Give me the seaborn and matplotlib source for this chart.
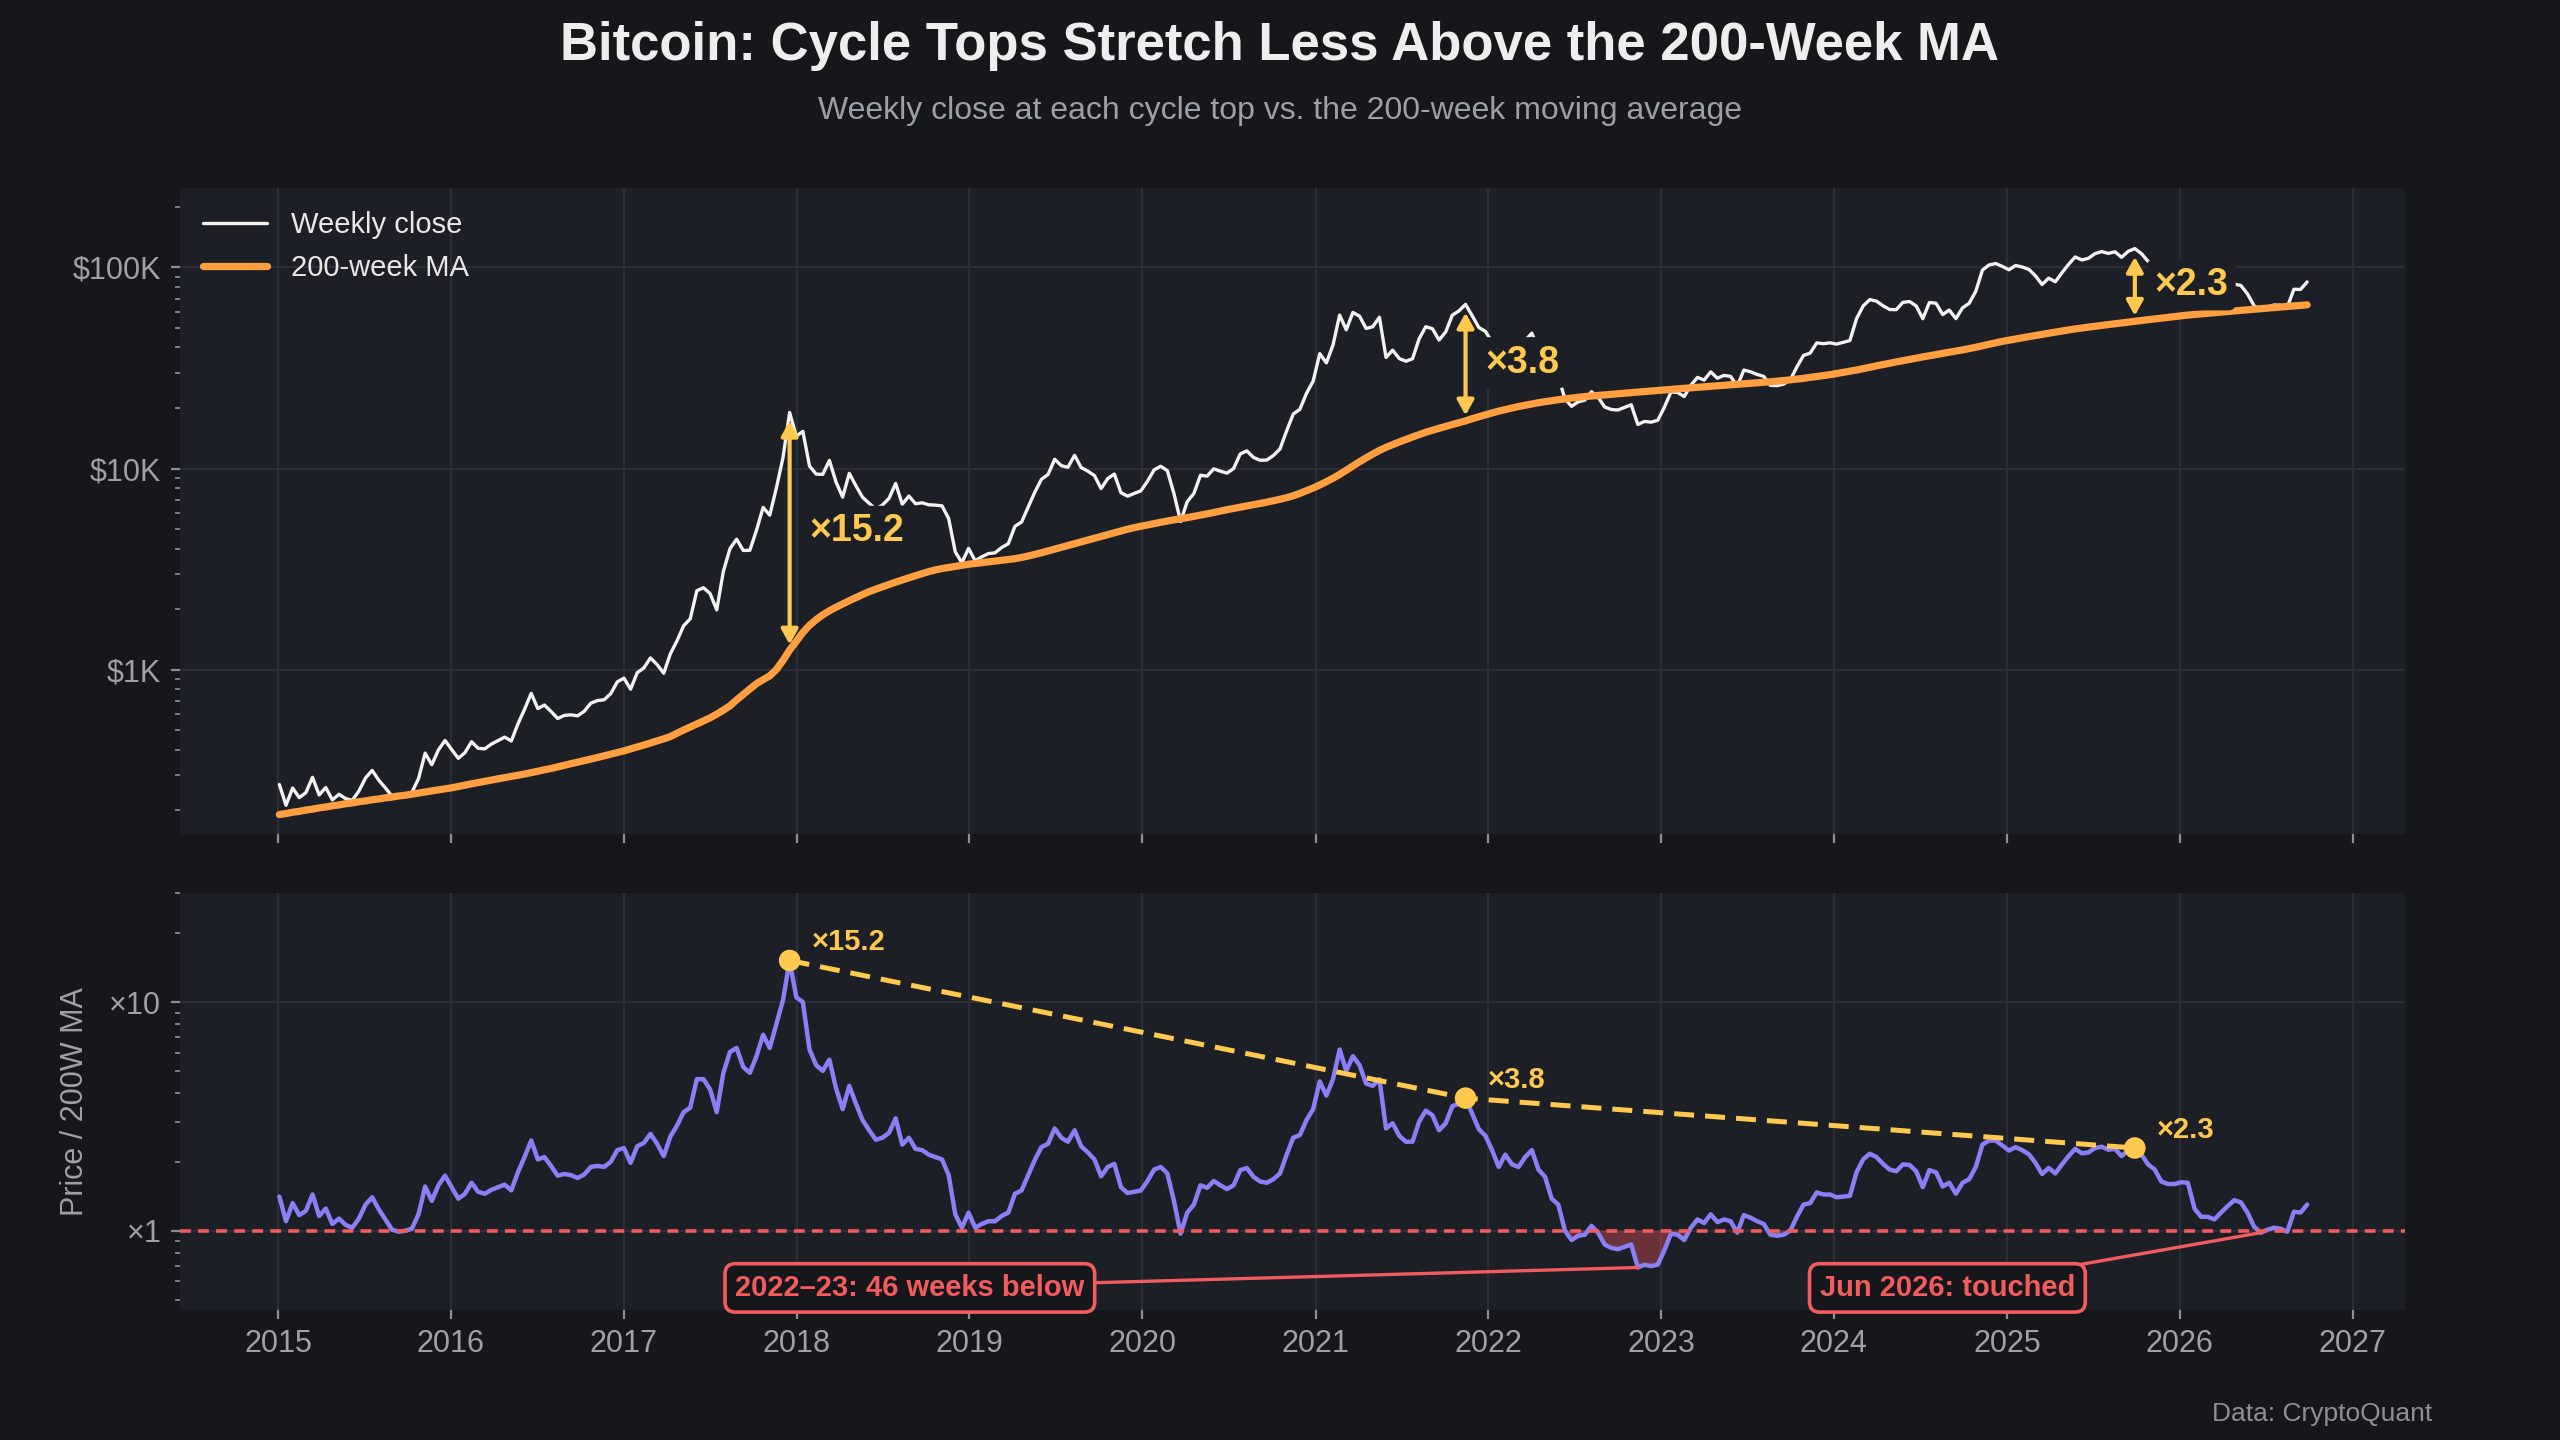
import pandas as pd
import matplotlib
matplotlib.use("Agg")
import matplotlib.pyplot as plt
import matplotlib.dates as mdates
from matplotlib.ticker import LogLocator, FuncFormatter, NullFormatter
import seaborn as sns

FIG_BG = "#16171b"
AX_BG = "#1c1f26"
GRID = "#2b2e36"
WHITE = "#f2f2f2"
ORANGE = "#ff9f40"
YELLOW = "#ffc94f"
PURPLE = "#8a7ff5"
RED = "#f25c5c"
MUTED = "#9da1a8"

# biweekly samples starting 2015-01-04, one row of 26 per year
START = "2015-01-04"
ratio = [
    1.41, 1.10, 1.32, 1.17, 1.22, 1.44, 1.16, 1.25, 1.07, 1.13, 1.06, 1.03, 1.13, 1.30, 1.40, 1.24, 1.12, 1.01, 0.99, 1.00, 1.02, 1.18, 1.56, 1.35, 1.58, 1.74,
    1.55, 1.38, 1.45, 1.62, 1.48, 1.45, 1.51, 1.55, 1.59, 1.50, 1.80, 2.10, 2.48, 2.05, 2.10, 1.92, 1.74, 1.77, 1.75, 1.70, 1.76, 1.90, 1.92, 1.90, 2.00, 2.25,
    2.30, 1.98, 2.34, 2.42, 2.65, 2.40, 2.12, 2.58, 2.88, 3.30, 3.45, 4.60, 4.60, 4.15, 3.30, 4.90, 6.05, 6.30, 5.20, 4.90, 5.80, 7.20, 6.30, 8.00, 10.2, 15.2,
    10.5, 10.0, 6.20, 5.30, 5.00, 5.60, 4.20, 3.40, 4.30, 3.60, 3.05, 2.75, 2.50, 2.55, 2.68, 3.10, 2.38, 2.55, 2.28, 2.25, 2.15, 2.10, 2.05, 1.75, 1.18, 1.03,
    1.20, 1.03, 1.07, 1.10, 1.10, 1.16, 1.20, 1.45, 1.50, 1.75, 2.04, 2.32, 2.40, 2.80, 2.55, 2.45, 2.75, 2.34, 2.20, 2.05, 1.73, 1.90, 1.96, 1.55, 1.46, 1.48,
    1.50, 1.65, 1.85, 1.90, 1.78, 1.35, 0.97, 1.20, 1.30, 1.58, 1.54, 1.65, 1.58, 1.52, 1.58, 1.84, 1.88, 1.72, 1.64, 1.62, 1.68, 1.78, 2.15, 2.55, 2.62, 3.05,
    3.40, 4.50, 3.90, 4.60, 6.20, 5.00, 5.80, 5.30, 4.40, 4.30, 4.60, 2.80, 2.95, 2.60, 2.45, 2.45, 3.00, 3.35, 3.20, 2.75, 2.95, 3.50, 3.60, 3.80, 3.25, 2.78,
    2.60, 2.25, 1.90, 2.15, 1.95, 1.90, 2.10, 2.25, 1.85, 1.72, 1.38, 1.30, 1.00, 0.91, 0.95, 0.96, 1.05, 0.98, 0.87, 0.84, 0.83, 0.85, 0.87, 0.69, 0.71, 0.70,
    0.71, 0.82, 0.97, 0.96, 0.91, 1.03, 1.12, 1.08, 1.18, 1.09, 1.12, 1.10, 0.98, 1.17, 1.14, 1.10, 1.07, 0.96, 0.95, 0.96, 1.00, 1.15, 1.30, 1.32, 1.47, 1.44,
    1.44, 1.40, 1.41, 1.42, 1.80, 2.05, 2.17, 2.10, 1.96, 1.85, 1.82, 1.95, 1.94, 1.82, 1.55, 1.84, 1.80, 1.56, 1.62, 1.45, 1.62, 1.68, 1.90, 2.38, 2.48, 2.48,
    2.36, 2.24, 2.32, 2.25, 2.16, 1.98, 1.77, 1.88, 1.78, 1.95, 2.12, 2.28, 2.18, 2.20, 2.30, 2.33, 2.26, 2.28, 2.12, 2.25, 2.30, 2.15, 1.95, 1.85, 1.64, 1.60,
    1.60, 1.63, 1.62, 1.25, 1.15, 1.15, 1.12, 1.20, 1.28, 1.36, 1.33, 1.20, 1.04, 0.98, 1.01, 1.03, 1.02, 0.99, 1.21, 1.20, 1.30,
]
ma_200w = [
    190, 192, 195, 197, 200, 202, 205, 207, 210, 212, 215, 217, 220, 222, 225, 227, 230, 232, 235, 237, 240, 243, 246, 249, 252, 255,
    258, 262, 266, 270, 274, 278, 282, 286, 290, 294, 298, 302, 307, 312, 317, 322, 328, 334, 340, 346, 352, 358, 365, 372, 379, 386,
    394, 403, 412, 421, 431, 441, 452, 464, 482, 500, 518, 536, 555, 575, 600, 628, 660, 706, 752, 800, 850, 890, 930, 1000, 1110, 1250,
    1380, 1530, 1660, 1770, 1870, 1960, 2040, 2120, 2200, 2280, 2360, 2440, 2510, 2580, 2650, 2720, 2790, 2860, 2930, 3000, 3070, 3130, 3180, 3220, 3260, 3300,
    3340, 3370, 3400, 3430, 3460, 3490, 3520, 3560, 3610, 3670, 3740, 3810, 3890, 3970, 4050, 4140, 4230, 4320, 4410, 4500, 4590, 4690, 4790, 4890, 4990, 5080,
    5160, 5240, 5320, 5400, 5480, 5550, 5620, 5700, 5780, 5860, 5950, 6040, 6140, 6240, 6330, 6420, 6510, 6600, 6700, 6800, 6910, 7030, 7160, 7320, 7520, 7760,
    8000, 8280, 8600, 8950, 9350, 9800, 10300, 10800, 11300, 11800, 12300, 12750, 13150, 13550, 13950, 14350, 14750, 15150, 15500, 15850, 16200, 16550, 16900, 17250, 17700, 18100,
    18500, 18900, 19300, 19650, 20000, 20350, 20650, 20950, 21250, 21500, 21750, 22000, 22200, 22400, 22600, 22800, 22950, 23100, 23250, 23400, 23550, 23700, 23850, 24000, 24150, 24300,
    24450, 24600, 24750, 24900, 25050, 25200, 25350, 25500, 25650, 25800, 25950, 26100, 26250, 26400, 26550, 26700, 26850, 27000, 27200, 27400, 27600, 27850, 28100, 28400, 28700, 29000,
    29300, 29700, 30100, 30500, 30900, 31400, 31900, 32400, 32900, 33400, 33900, 34400, 34900, 35400, 35900, 36400, 36900, 37400, 37900, 38400, 38900, 39500, 40100, 40800, 41500, 42200,
    42900, 43500, 44100, 44700, 45300, 45900, 46500, 47100, 47700, 48300, 48900, 49500, 50000, 50500, 51000, 51500, 52000, 52500, 53000, 53500, 54000, 54500, 55000, 55500, 56000, 56500,
    57000, 57500, 58000, 58400, 58800, 59200, 59600, 60000, 60400, 60800, 61200, 61600, 62000, 62400, 62800, 63200, 63600, 64000, 64400, 64800, 65200,
]
cycle_tops = ["2017-12-17", "2021-11-14", "2025-09-28"]
below_note = ("2022–23: 46 weeks below", "2022-06-01", "2023-06-01", "2018-08-28")
touch_note = ("Jun 2026: touched", "2026-01-01", "2026-12-31", "2024-08-28")

TITLE = "Bitcoin: Cycle Tops Stretch Less Above the 200-Week MA"
SUBTITLE = "Weekly close at each cycle top vs. the 200-week moving average"
SOURCE = "Data: CryptoQuant"


def build_frame():
    df = pd.DataFrame({
        "date": pd.date_range(START, periods=len(ratio), freq="14D"),
        "ratio": ratio,
        "ma": ma_200w,
    })
    df["close"] = df["ratio"] * df["ma"]
    return df


def usd_fmt(v, pos):
    return f"${v / 1000:.0f}K" if v >= 1000 else f"${v:.0f}"


def mult_fmt(v, pos):
    return f"×{v:g}"


def style_axis(ax):
    ax.set_facecolor(AX_BG)
    for s in ax.spines.values():
        s.set_visible(False)
    ax.grid(True, which="major", color=GRID, lw=0.8)
    ax.grid(False, which="minor")
    ax.tick_params(axis="both", which="major", colors="#8a8f98", labelcolor=MUTED,
                   labelsize=11, length=3.2, width=0.8)
    ax.tick_params(axis="y", which="minor", colors="#7a7e86", length=1.9, width=0.7)
    ax.set_xlabel("")
    ax.set_ylabel("")


def main():
    df = build_frame()
    tops = df[df["date"].isin(pd.to_datetime(cycle_tops))].reset_index(drop=True)

    sns.set_theme(style="darkgrid", rc={
        "figure.facecolor": FIG_BG,
        "axes.facecolor": AX_BG,
        "grid.color": GRID,
        "text.color": WHITE,
        "xtick.bottom": True,
        "ytick.left": True,
    })
    plt.rcParams["font.family"] = ["Liberation Sans", "DejaVu Sans"]

    fig, (ax1, ax2) = plt.subplots(2, 1, figsize=(12.8, 7.2), dpi=200, sharex=True,
                                   gridspec_kw={"height_ratios": [0.4486, 0.2896], "hspace": 0.111})
    fig.subplots_adjust(left=0.0703, right=0.9395, top=0.8694, bottom=0.0903)

    # top: price and 200W MA
    sns.lineplot(data=df, x="date", y="close", ax=ax1, color=WHITE, lw=1.2, label="Weekly close")
    sns.lineplot(data=df, x="date", y="ma", ax=ax1, color=ORANGE, lw=2.6, label="200-week MA")
    ax1.set_yscale("log")
    ax1.set_ylim(min(df["ma"].min(), df["close"].min()) * 0.8, df["close"].max() * 2)
    ax1.yaxis.set_major_locator(LogLocator(base=10))
    ax1.yaxis.set_major_formatter(FuncFormatter(usd_fmt))
    ax1.yaxis.set_minor_locator(LogLocator(base=10, subs=range(2, 10)))
    ax1.yaxis.set_minor_formatter(NullFormatter())
    style_axis(ax1)
    ax1.legend(loc="upper left", frameon=False, fontsize=10.5, labelcolor="#e8e8e8",
               handlelength=2.2, borderaxespad=0.4)

    for _, t in tops.iterrows():
        x = mdates.date2num(t["date"])
        ax1.annotate("", xy=(x, t["ma"]), xytext=(x, t["close"]),
                     arrowprops=dict(arrowstyle="<|-|>,head_length=0.45,head_width=0.25",
                                     color=YELLOW, lw=1.5, shrinkA=3, shrinkB=2, mutation_scale=10))
        mid = (t["close"] * t["ma"]) ** 0.5
        ax1.annotate(f"×{t['ratio']:.1f}", xy=(x, mid), xytext=(7, 0), textcoords="offset points",
                     ha="left", va="center", fontsize=13.5, fontweight="bold", color=YELLOW,
                     bbox=dict(boxstyle="round,pad=0.2", fc=AX_BG, ec="none"))

    # bottom: ratio to the MA
    ax2.fill_between(df["date"], df["ratio"], 1, where=df["ratio"] < 1, interpolate=True,
                     color="#ff5a5f", alpha=0.35, lw=0)
    sns.lineplot(data=df, x="date", y="ratio", ax=ax2, color=PURPLE, lw=1.6)
    ax2.axhline(1, color=RED, lw=1.3, ls=(0, (3, 2)))
    sns.lineplot(data=tops, x="date", y="ratio", ax=ax2, color=YELLOW, lw=1.8,
                 ls=(0, (4, 2.2)))
    sns.scatterplot(data=tops, x="date", y="ratio", ax=ax2, color=YELLOW, s=60,
                    edgecolor="none", zorder=5)
    for _, t in tops.iterrows():
        ax2.annotate(f"×{t['ratio']:.1f}", xy=(mdates.date2num(t["date"]), t["ratio"]),
                     xytext=(8, 1.5), textcoords="offset points", ha="left", va="bottom",
                     fontsize=10.5, fontweight="bold", color=YELLOW)

    for text, lo, hi, tx in (below_note, touch_note):
        win = df[(df["date"] >= lo) & (df["date"] <= hi)]
        low = win.loc[win["ratio"].idxmin()]
        ax2.annotate(text, xy=(mdates.date2num(low["date"]), low["ratio"]),
                     xytext=(mdates.date2num(pd.Timestamp(tx)), 0.562),
                     ha="center", va="center", fontsize=10.5, fontweight="bold", color=RED,
                     bbox=dict(boxstyle="round,pad=0.35", fc=FIG_BG, ec=RED, lw=1.3),
                     arrowprops=dict(arrowstyle="-", color=RED, lw=1.2, shrinkA=0, shrinkB=0))

    ax2.set_yscale("log")
    ax2.set_ylim(0.45, 30)
    ax2.yaxis.set_major_locator(LogLocator(base=10))
    ax2.yaxis.set_major_formatter(FuncFormatter(mult_fmt))
    ax2.yaxis.set_minor_locator(LogLocator(base=10, subs=range(2, 10)))
    ax2.yaxis.set_minor_formatter(NullFormatter())
    style_axis(ax2)
    ax2.set_ylabel("Price / 200W MA", color=MUTED, fontsize=11, labelpad=7)
    ax2.xaxis.set_major_locator(mdates.YearLocator())
    ax2.xaxis.set_major_formatter(mdates.DateFormatter("%Y"))
    ax2.set_xlim(pd.Timestamp("2014-06-08"), pd.Timestamp("2027-04-22"))

    fig.text(0.5, 0.968, TITLE, ha="center", va="center", fontsize=19, fontweight="bold", color="#eeeeee")
    fig.text(0.5, 0.923, SUBTITLE, ha="center", va="center", fontsize=11.5, color="#9aa0a6")
    fig.text(0.950, 0.018, SOURCE, ha="right", va="center", fontsize=9.5, color="#8a8f98")

    fig.savefig("out.png", dpi=200, facecolor=FIG_BG)
    plt.close(fig)


if __name__ == "__main__":
    main()
